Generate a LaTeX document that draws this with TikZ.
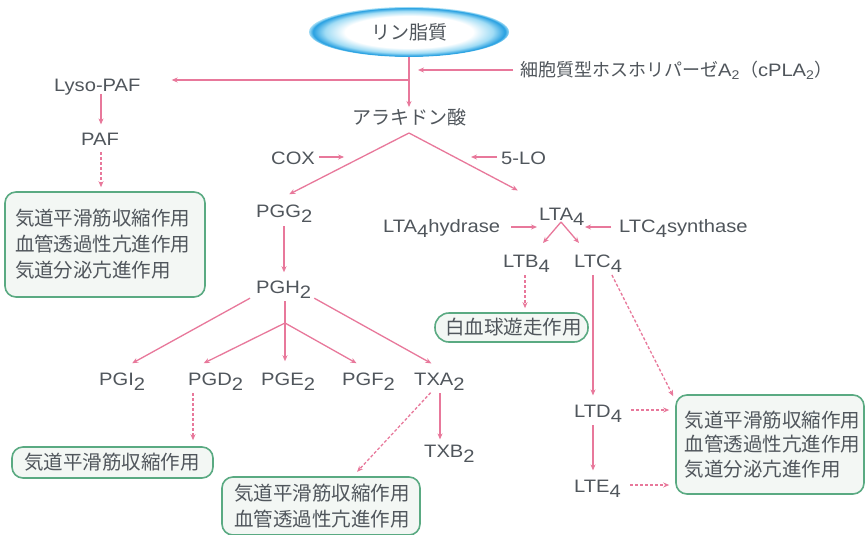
\documentclass[tikz,border=0pt]{standalone}
\usepackage{fontspec}
\setmainfont{Liberation Sans}[FakeStretch=1.12]
\newfontfamily\jp{Noto Sans CJK JP}
\usetikzlibrary{arrows.meta,shapes.geometric}
\definecolor{pinkc}{RGB}{232,120,155}
\definecolor{txtc}{RGB}{80,86,92}
\definecolor{boxb}{RGB}{90,170,130}
\definecolor{boxf}{RGB}{243,247,244}
\definecolor{ringc}{RGB}{40,160,225}
\definecolor{ringl}{RGB}{160,220,245}
\pgfdeclareradialshading{glow}{\pgfpoint{0bp}{0bp}}{color(0bp)=(white); color(16bp)=(white); color(21bp)=(ringl); color(24bp)=(ringc); color(25bp)=(ringl); color(50bp)=(white)}
\newcommand\lsub[1]{\raisebox{-5pt}{#1}}
\begin{document}
\begin{tikzpicture}[x=1pt,y=-1pt,
  font=\fontsize{18}{22}\selectfont, text=txtc,
  lbl/.style={inner sep=1pt, anchor=base west},
  jlbl/.style={inner sep=1pt, font=\jp\fontsize{19}{22}\selectfont},
  fx/.style={draw=boxb, line width=1.6pt, fill=boxf, rounded corners=11pt, align=left,
    font=\jp\fontsize{19.5}{26}\selectfont, inner ysep=0pt},
  arr/.style={draw=pinkc, line width=1.3pt, -{Stealth[length=6pt,width=5pt]}},
  darr/.style={arr, dash pattern=on 3pt off 2pt}]
\useasboundingbox (0,0) rectangle (867,535);
\fill[white] (0,0) rectangle (867,535);

% top
\node[ellipse, minimum width=200pt, minimum height=50pt, shade, shading=glow, jlbl] (lip) at (409,32) {リン脂質};
\node[jlbl] (ara) at (409,117) {アラキドン酸};
\node[inner sep=1pt, anchor=west, font=\jp\fontsize{18}{20}\selectfont] (cpla) at (519,70)
  {細胞質型ホスホリパーゼ{\rmfamily A\textsubscript{2}}（{\rmfamily cPLA\textsubscript{2}}）};
\node[lbl] (lyso) at (53,91) {Lyso-PAF};
\node[lbl] (paf) at (80,145) {PAF};
\coordinate (j1) at (409,80);
\coordinate (cplaend) at (418,70);
\draw[arr] (lip.south) -- (ara.north);
\draw[arr] ([xshift=-6pt]cpla.west) -- (cplaend);
\draw[arr] (j1) -- ([xshift=30pt]lyso.east |- j1);
\draw[arr, shorten <=-2pt, shorten >=7pt] (lyso.south -| 101,0) -- (paf.north -| 101,0);
\node[fx, text width=180pt, inner xsep=10pt, minimum height=105pt] (box1) at (105,244.5)
  {気道平滑筋収縮作用\\血管透過性亢進作用\\気道分泌亢進作用};
\draw[darr, shorten <=6pt, shorten >=4pt] (paf.south -| 101,0) -- (box1.north -| 101,0);

% COX / 5-LO
\coordinate (apex) at (409,133);
\node[lbl] (cox) at (270,164) {COX};
\node[lbl] (lo5) at (500,164) {5-LO};
\node[lbl] (pgg) at (255,217) {PGG\lsub{2}};
\node[lbl] (lta) at (538,220) {LTA\lsub{4}};
\draw[arr] (apex) -- ([xshift=5pt,yshift=9pt]pgg.north);
\draw[arr] (apex) -- ([xshift=-44pt,yshift=16pt]lta.north);
\draw[arr] ([xshift=3pt]cox.east |- 0,157) -- ([xshift=28pt]cox.east |- 0,157);
\draw[arr] ([xshift=-3pt]lo5.west |- 0,157) -- ([xshift=-29pt]lo5.west |- 0,157);

% PG branch
\node[lbl] (pgh) at (255,293) {PGH\lsub{2}};
\draw[arr, shorten <=3pt, shorten >=7pt] (pgg.south -| 284,0) -- (pgh.north -| 284,0);
\node[lbl] (pgi) at (98,385) {PGI\lsub{2}};
\node[lbl] (pgd) at (187,385) {PGD\lsub{2}};
\node[lbl] (pge) at (260,385) {PGE\lsub{2}};
\node[lbl] (pgf) at (341,385) {PGF\lsub{2}};
\node[lbl] (txa) at (413,385) {TXA\lsub{2}};
\node[lbl] (txb) at (423,457) {TXB\lsub{2}};
\coordinate (br) at (285,323);
\draw[arr] ([xshift=-5pt,yshift=1pt]pgh.south west) -- ([xshift=10pt,yshift=8pt]pgi.north);
\draw[arr] ([xshift=2pt,yshift=1pt]pgh.south east) -- ([xshift=-8pt,yshift=8pt]txa.north);
\draw[arr, shorten <=2pt, shorten >=10pt] (pgh.south -| 285,0) -- (pge.north -| 285,0);
\draw[arr] (br) -- ([xshift=-12pt,yshift=8pt]pgd.north);
\draw[arr] (br) -- ([xshift=-12pt,yshift=8pt]pgf.north);

\node[fx, text width=177pt, inner xsep=12pt, minimum height=31pt] (box2) at (112.5,462.5) {気道平滑筋収縮作用};
\draw[darr, shorten <=2pt, shorten >=6pt] (pgd.south -| 193,0) -- (box2.north -| 193,0);
\draw[arr, shorten <=2pt, shorten >=4pt] (txa.south -| 440,0) -- (txb.north -| 440,0);
\node[fx, text width=174pt, inner xsep=12pt, minimum height=58pt] (box3) at (321,506) {気道平滑筋収縮作用\\血管透過性亢進作用};
\draw[darr, shorten <=2pt, shorten >=6pt] (txa.south -| 432,0) -- ([xshift=32pt]box3.north);

% LT branch
\node[lbl] (ltah) at (382,232) {LTA\lsub{4}hydrase};
\node[lbl] (ltcs) at (618,232) {LTC\lsub{4}synthase};
\coordinate (hyend) at (537,227);
\coordinate (syend) at (585,227);
\draw[arr] ([xshift=10pt]ltah.east |- hyend) -- (hyend);
\draw[arr] ([xshift=-7pt]ltcs.west |- syend) -- (syend);
\node[lbl] (ltb) at (502,267) {LTB\lsub{4}};
\node[lbl] (ltc) at (573,267) {LTC\lsub{4}};
\coordinate (caret) at (561,222);
\coordinate (cl) at (543,243);
\coordinate (cr) at (579,243);
\draw[arr] (caret) -- (cl);
\draw[arr] (caret) -- (cr);
\node[fx, text width=133pt, inner xsep=10pt, minimum height=29pt, rounded corners=14pt] (box4) at (511.5,327.5) {白血球遊走作用};
\draw[darr, shorten <=2pt, shorten >=4pt] (ltb.south -| 525,0) -- (box4.north -| 525,0);
\node[lbl] (ltd) at (573,417) {LTD\lsub{4}};
\node[lbl] (lte) at (573,492) {LTE\lsub{4}};
\draw[arr, shorten <=2pt, shorten >=8pt] (ltc.south -| 593,0) -- (ltd.north -| 593,0);
\draw[arr, shorten <=2pt, shorten >=8pt] (ltd.south -| 593,0) -- (lte.north -| 593,0);
\node[fx, text width=171pt, inner xsep=8.5pt, minimum height=99pt, font=\jp\fontsize{19.5}{24.5}\selectfont] (box5) at (770,444.5)
  {気道平滑筋収縮作用\\血管透過性亢進作用\\気道分泌亢進作用};
\draw[darr, shorten <=2pt] (ltc.south -| 611,0) -- ([xshift=-2pt,yshift=-2pt]box5.north west);
\draw[darr] ([xshift=8pt]ltd.east |- 0,410) -- ([xshift=-6pt]box5.west |- 0,410);
\draw[darr] ([xshift=8pt]lte.east |- 0,485) -- ([xshift=-6pt]box5.west |- 0,485);
\end{tikzpicture}
\end{document}
